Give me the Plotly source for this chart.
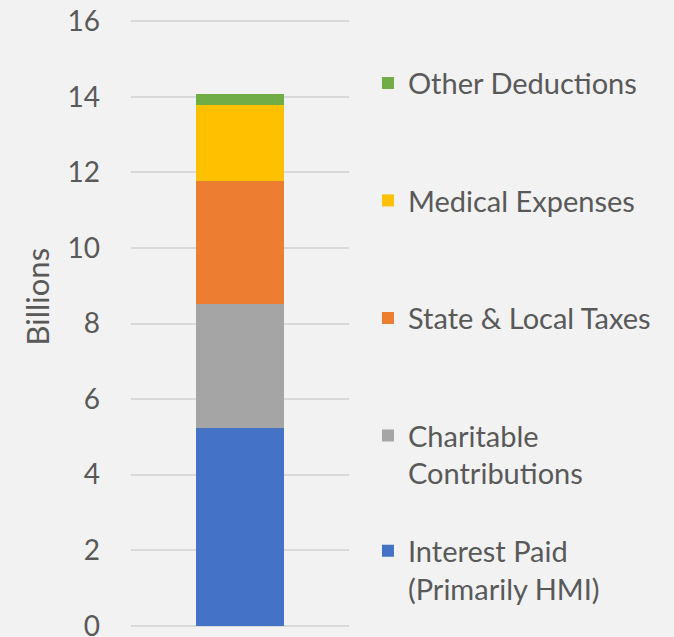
import plotly.graph_objects as go

category = ["Deductions"]
series_names = ["Interest Paid<br>(Primarily HMI)", "Charitable<br>Contributions",
                "State & Local Taxes", "Medical Expenses", "Other Deductions"]
series_values = [5.24, 3.28, 3.25, 2.01, 0.29]
colors = ["#4472c4", "#a5a5a5", "#ed7d31", "#ffc000", "#70ad47"]
y_ticks = [0, 2, 4, 6, 8, 10, 12, 14, 16]

# each legend entry gets its own legend so they can be spread out like Excel does
legend_y = [0.094, 0.284, 0.509, 0.7025, 0.896]
legend_keys = ["legend", "legend2", "legend3", "legend4", "legend5"]

text_color = "#595959"
font = "Lato"

fig = go.Figure()
for name, val, col, lk in zip(series_names, series_values, colors, legend_keys):
    fig.add_trace(go.Bar(x=category, y=[val], name=name, marker_color=col,
                         marker_line_width=0, legend=lk))

layout_legends = {}
for lk, ly in zip(legend_keys, legend_y):
    layout_legends[lk] = dict(x=1.087, xanchor="left", y=ly, yanchor="middle",
                              valign="top", bgcolor="rgba(0,0,0,0)",
                              font=dict(family=font, size=29, color=text_color))

fig.update_layout(
    width=674, height=637,
    margin=dict(l=131, r=325, t=20, b=10, autoexpand=False),
    paper_bgcolor="#f2f2f2", plot_bgcolor="#f2f2f2",
    barmode="stack", bargap=0.596,
    showlegend=True,
    font=dict(family=font, color=text_color),
    **layout_legends,
)
fig.update_xaxes(showticklabels=False, showgrid=False, zeroline=False, showline=False)
# range padded a hair so the 0 and 16 gridlines are still drawn
fig.update_yaxes(range=[-0.03, 16.03], tickvals=y_ticks, showgrid=True, gridcolor="#d9d9d9",
                 gridwidth=2, zeroline=False, showline=False, ticks="",
                 ticklabelstandoff=30, ticklabeloverflow="allow",
                 tickfont=dict(family=font, size=28, color=text_color))
fig.add_annotation(text="Billions", xref="paper", yref="paper",
                   x=-0.43, y=0.545, xanchor="center", yanchor="middle",
                   textangle=-90, showarrow=False,
                   font=dict(family=font, size=31, color=text_color))

# drop the default page margin so the figure sits at the window's corner
fig.write_html("out.html", config={"displayModeBar": False},
               post_script="document.body.style.margin='0';")
